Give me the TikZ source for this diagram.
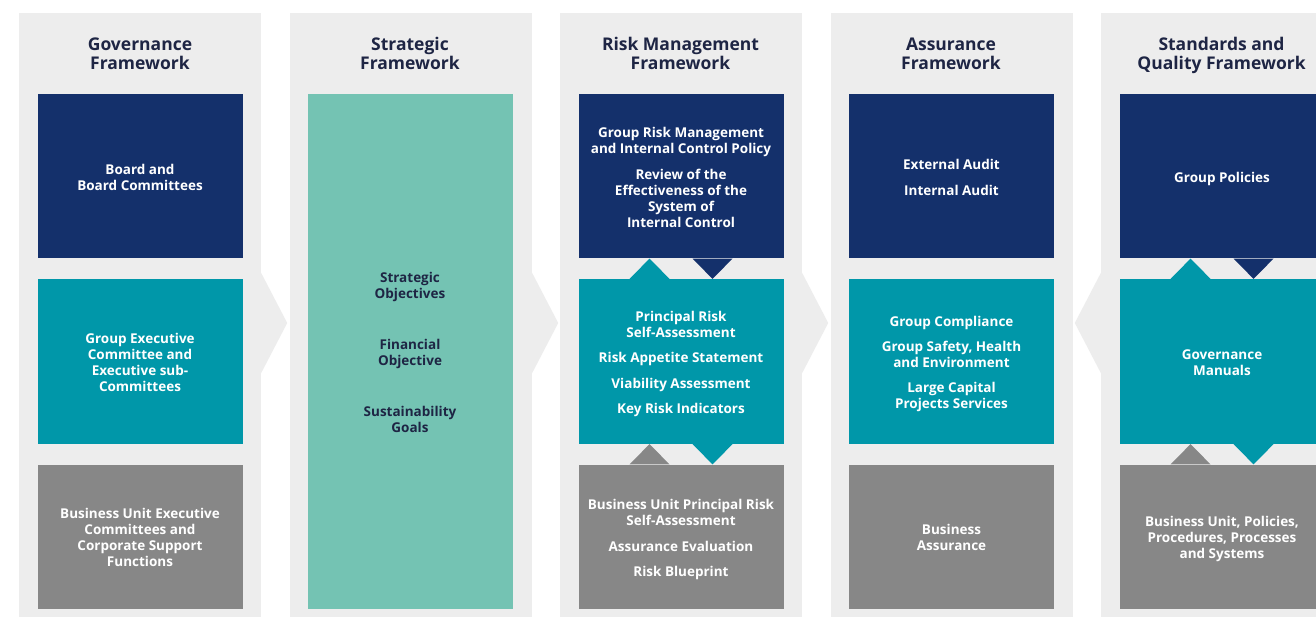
\documentclass[tikz,border=0pt]{standalone}
\usepackage{fontspec}
\setmainfont{Open Sans}
\usetikzlibrary{calc}
\definecolor{navyc}{HTML}{14306B}
\definecolor{tealc}{HTML}{0097A9}
\definecolor{grayc}{HTML}{878787}
\definecolor{mintc}{HTML}{74C3B3}
\definecolor{panelc}{HTML}{EDEDED}
\definecolor{headc}{HTML}{1E2544}
\newcommand\myT{\rule{0pt}{16.4pt}}
\newcommand\myB{\rule[-4pt]{0pt}{4pt}}
\newcommand\myHT{\rule{0pt}{17.2pt}}
\newcommand\myHB{\rule[-5pt]{0pt}{5pt}}
\begin{document}
\begin{tikzpicture}[x=1pt,y=-1pt,
  panel/.style={fill=panelc, minimum width=242pt, minimum height=604pt, inner sep=0pt},
  head/.style={align=center, text=headc, inner sep=0pt, font=\fontsize{17.5}{19}\selectfont\bfseries},
  box/.style={minimum width=205pt, inner sep=0pt, align=center, text=white, font=\fontsize{13.5}{16}\selectfont\bfseries},
  topbox/.style={box, fill=navyc, minimum height=164.5pt},
  midbox/.style={box, fill=tealc, minimum height=165pt},
  botbox/.style={box, fill=grayc, minimum height=144.5pt},
  mintbox/.style={box, fill=mintc, text=headc, minimum height=515pt},
  chev/.style={fill=panelc}]
\useasboundingbox (0,0) rectangle (1316,617);
\clip (0,0) rectangle (1316,617);
\fill[white] (0,0) rectangle (1316,617);

% panels
\node[panel] (p1) at (140,315) {};
\node[panel] (p2) at (411,315) {};
\node[panel] (p3) at (681,315) {};
\node[panel] (p4) at (951.5,315) {};
\node[panel] (p5) at (1222,315) {};

% chevrons between panels
\fill[chev] ($(p1.east)+(0,-42)$) -- ($(p1.east)+(26,8)$) -- ($(p1.east)+(0,58)$) -- cycle;
\fill[chev] ($(p2.east)+(0,-42)$) -- ($(p2.east)+(26,8)$) -- ($(p2.east)+(0,58)$) -- cycle;
\fill[chev] ($(p3.east)+(0,-42)$) -- ($(p3.east)+(26,8)$) -- ($(p3.east)+(0,58)$) -- cycle;
\fill[chev] ($(p5.west)+(0,-42)$) -- ($(p5.west)+(-26,8)$) -- ($(p5.west)+(0,58)$) -- cycle;

% headings
\node[head] (h1) at (140,53.5) {\myHT Governance\\Framework\myHB};
\node[head] (h2) at (410,53.5) {\myHT Strategic\\Framework\myHB};
\node[head] (h3) at (680.5,53.5) {\myHT Risk Management\\Framework\myHB};
\node[head] (h4) at (951,53.5) {\myHT Assurance\\Framework\myHB};
\node[head] (h5) at (1221.5,53.5) {\myHT Standards and\\Quality Framework\myHB};

% column 1
\node[topbox] (t1) at (140,176.25) {\myT Board and\\Board Committees\myB};
\node[midbox] (m1) at (140,361.5) {\myT Group Executive\\Committee and\\Executive sub-\\Committees\myB};
\node[botbox] (b1) at (140,536.75) {\myT Business Unit Executive\\Committees and\\Corporate Support\\Functions\myB};

% column 2
\node[mintbox] (s2) at (410,351.5) {\myT Strategic\\Objectives\\[35pt]Financial\\Objective\\[35pt]Sustainability\\Goals\myB};

% column 3
\node[topbox] (t3) at (681,176.25) {\myT Group Risk Management\\and Internal Control Policy\\[10pt]Review of the\\Effectiveness of the\\System of\\Internal Control\myB};
\node[midbox] (m3) at (681,361.5) {\myT Principal Risk\\Self-Assessment\\[9.5pt]Risk Appetite Statement\\[9.5pt]Viability Assessment\\[9.5pt]Key Risk Indicators\myB};
\node[botbox] (b3) at (681,536.75) {\myT Business Unit Principal Risk\\Self-Assessment\\[10pt]Assurance Evaluation\\[9.5pt]Risk Blueprint\myB};

% column 4
\node[topbox] (t4) at (951.5,176.25) {\myT External Audit\\[10pt]Internal Audit\myB};
\node[midbox] (m4) at (951.5,361.5) {\myT Group Compliance\\[9pt]Group Safety, Health\\and Environment\\[9pt]Large Capital\\Projects Services\myB};
\node[botbox] (b4) at (951.5,536.75) {\myT Business\\Assurance\myB};

% column 5
\node[topbox] (t5) at (1222,176.25) {\myT Group Policies\myB};
\node[midbox] (m5) at (1222,361.5) {\myT Governance\\Manuals\myB};
\node[botbox] (b5) at (1222,536.75) {\myT Business Unit, Policies,\\Procedures, Processes\\and Systems\myB};

% notches column 3
\fill[tealc] ([xshift=-51.5pt]m3.north) -- ([xshift=-11.5pt]m3.north) -- ([xshift=-31.5pt]t3.south) -- cycle;
\fill[navyc] ([xshift=11.5pt]t3.south) -- ([xshift=51.5pt]t3.south) -- ([xshift=31.5pt]m3.north) -- cycle;
\fill[grayc] ([xshift=-51.5pt]b3.north) -- ([xshift=-11.5pt]b3.north) -- ([xshift=-31.5pt]m3.south) -- cycle;
\fill[tealc] ([xshift=11.5pt]m3.south) -- ([xshift=51.5pt]m3.south) -- ([xshift=31.5pt]b3.north) -- cycle;

% notches column 5
\fill[tealc] ([xshift=-51.5pt]m5.north) -- ([xshift=-11.5pt]m5.north) -- ([xshift=-31.5pt]t5.south) -- cycle;
\fill[navyc] ([xshift=11.5pt]t5.south) -- ([xshift=51.5pt]t5.south) -- ([xshift=31.5pt]m5.north) -- cycle;
\fill[grayc] ([xshift=-51.5pt]b5.north) -- ([xshift=-11.5pt]b5.north) -- ([xshift=-31.5pt]m5.south) -- cycle;
\fill[tealc] ([xshift=11.5pt]m5.south) -- ([xshift=51.5pt]m5.south) -- ([xshift=31.5pt]b5.north) -- cycle;
\end{tikzpicture}
\end{document}
